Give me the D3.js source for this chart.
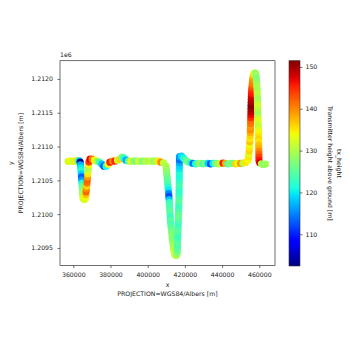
<!DOCTYPE html>
<html>
<head>
<meta charset="utf-8">
<script src="https://cdn.jsdelivr.net/npm/d3@7"></script>
<style>
  body { margin: 0; background: #fff; }
  svg text { font-family: "DejaVu Sans", sans-serif; fill: #222; }
</style>
</head>
<body>
<div id="plot"></div>
<script>
// flight line, x / y in metres (WGS84/Albers), tx_height in metres
var easting = [
  357200, 358600, 360000, 361300, 362400, 363200, 363700,
  363800, 363950, 364100, 364250, 364400, 364500, 364650, 364750, 364900, 365000, 365100, 365250, 365450,
  365800, 366200,
  366600, 366750, 366900, 367050, 367200, 367350, 367500, 367650, 367800, 367950, 368100, 368250, 368400,
  369000, 370100, 371400, 372700, 374100, 375400, 376500, 377600, 378700, 379700, 381100, 382400, 383800,
  385100, 386200, 387300, 388300, 389700, 391000, 392400, 393700, 395100, 396400, 397700, 399100, 400400,
  401800, 403100, 404500, 405800, 407100, 408500,
  409840, 410000, 410160, 410320, 410480, 410640, 410800, 410960, 411120, 411290, 411390, 411500, 411610,
  411720, 411820, 411930, 412040, 412150, 412250, 412410, 412580, 412740, 412900, 413060, 413270, 413490,
  413700, 413920, 414190, 414510, 414940, 415430, 415800, 415910, 415960, 416020, 416070, 416120, 416180,
  416230, 416290, 416340, 416390, 416450, 416500, 416550, 416610, 416660, 416720, 416770, 416820, 416830,
  416880, 416890, 416930, 416940, 416980, 416990, 417000, 417010, 417040, 417050, 417060, 417070, 417100,
  418160, 419240, 420310, 421500,
  423010, 424350, 425700, 427040, 428380, 429730, 431070, 432420, 433760, 435100, 436450, 437790, 439140,
  440480, 441820, 443170, 444510, 445860, 447200, 448540, 449890, 451230, 452580,
  454080, 454240, 454400, 454560, 454670, 454780, 454890, 454990, 455100, 455160, 455210, 455260, 455320,
  455370, 455420, 455480, 455530, 455530, 455590, 455640, 455690, 455750, 455800, 455910, 456020, 456180,
  456340, 456550, 456820, 457140, 457580, 457950, 458220, 458380, 458490, 458600, 458700, 458810, 458870,
  458920, 458970, 459030, 459080, 459130, 459190, 459240, 459300, 459350, 459400, 459460, 459510, 459560,
  459620, 459620, 459670, 459670, 459730, 459730, 459780, 459780, 459830, 460260, 461180, 462250, 463330
];

var northing = [
  1210780, 1210785, 1210780, 1210790, 1210790, 1210790, 1210770,
  1210730, 1210685, 1210640, 1210595, 1210550, 1210505, 1210460, 1210415, 1210370, 1210325, 1210280, 1210240, 1210235,
  1210215, 1210220,
  1210250, 1210290, 1210330, 1210370, 1210415, 1210460, 1210505, 1210550, 1210595, 1210640, 1210685, 1210730, 1210770,
  1210813, 1210813, 1210798, 1210783, 1210768, 1210739, 1210709, 1210709, 1210739, 1210768, 1210783, 1210783, 1210798,
  1210813, 1210842, 1210828, 1210798, 1210783, 1210783, 1210783, 1210783, 1210783, 1210783, 1210783, 1210783, 1210783,
  1210783, 1210783, 1210783, 1210783, 1210768, 1210760,
  1210710, 1210665, 1210620, 1210575, 1210530, 1210485, 1210440, 1210395, 1210350, 1210305, 1210260, 1210215, 1210170,
  1210125, 1210080, 1210035, 1209990, 1209945, 1209900, 1209855, 1209810, 1209765, 1209720, 1209675, 1209630, 1209585,
  1209540, 1209495, 1209450, 1209415, 1209390, 1209390, 1209420, 1209455, 1209500, 1209545, 1209590, 1209635, 1209680,
  1209725, 1209770, 1209815, 1209860, 1209905, 1209950, 1209995, 1210040, 1210085, 1210130, 1210175, 1210220, 1210265,
  1210310, 1210355, 1210400, 1210445, 1210490, 1210535, 1210580, 1210625, 1210670, 1210715, 1210760, 1210805, 1210850,
  1210860, 1210830, 1210800, 1210775,
  1210760, 1210750, 1210745, 1210750, 1210750, 1210745, 1210750, 1210750, 1210745, 1210750, 1210750, 1210745, 1210750,
  1210755, 1210750, 1210745, 1210750, 1210750, 1210745, 1210750, 1210750, 1210755, 1210765,
  1210800, 1210845, 1210890, 1210935, 1210980, 1211025, 1211070, 1211115, 1211160, 1211205, 1211250, 1211295, 1211340,
  1211385, 1211430, 1211475, 1211520, 1211565, 1211610, 1211655, 1211700, 1211745, 1211790, 1211835, 1211880, 1211925,
  1211970, 1212010, 1212050, 1212080, 1212090, 1212080, 1212050, 1212010, 1211965, 1211920, 1211875, 1211830, 1211785,
  1211740, 1211695, 1211650, 1211605, 1211560, 1211515, 1211470, 1211425, 1211380, 1211335, 1211290, 1211245, 1211200,
  1211155, 1211110, 1211065, 1211020, 1210975, 1210930, 1210885, 1210840, 1210795, 1210760, 1210745, 1210735, 1210740
];

var txHeight = [
  132, 134, 131, 135, 128, 119, 102.4,
  117, 120, 122, 119, 113, 116, 121, 125, 127, 129, 130, 132, 133,
  131, 133,
  134, 137, 142, 140, 136, 141, 142, 139, 135, 132, 130, 134, 144,
  147, 141, 134, 130, 124, 118, 112, 121, 134, 146, 140, 145, 131,
  136, 127, 122, 117, 125, 134, 128, 126, 133, 129, 127, 131, 129,
  132, 128, 130, 135, 140, 131,
  130, 129, 128, 127, 126, 125, 124, 122, 120, 115, 112, 118, 123,
  124, 124, 125, 124, 123, 125, 124, 125, 126, 127, 128, 127, 128,
  129, 130, 131, 131, 132, 130, 128, 126, 125, 124, 125, 124, 123,
  124, 125, 124, 123, 124, 125, 126, 125, 124, 123, 124, 125, 124,
  123, 122, 123, 124, 123, 122, 121, 122, 120, 119, 117, 114, 116,
  119, 121, 124, 127,
  122, 114, 121, 126, 129, 124, 127, 119, 112, 120, 126, 129, 131,
  146, 138, 124, 128, 126, 136, 133, 139, 130, 135,
  134, 135, 133, 136, 135, 134, 137, 135, 136, 138, 140, 139, 141,
  142, 145, 147, 149, 150, 151.5, 150, 149, 148, 146, 145, 143, 141,
  140, 139, 137, 134, 132, 128, 129, 127, 128, 129, 130, 129, 131,
  130, 129, 130, 132, 131, 130, 129, 131, 133, 132, 131, 133, 134,
  135, 136, 135, 137, 138, 140, 142, 144, 146, 148, 130, 128, 129
];

var xTicks = [360000, 380000, 400000, 420000, 440000, 460000];
var yTicks = [1209500, 1210000, 1210500, 1211000, 1211500, 1212000];
var cbarTicks = [110, 120, 130, 140, 150];

var svgWidth = 350, svgHeight = 350;
var plot = {left: 60, top: 60.7, right: 275, bottom: 265.5};
var cbar = {left: 289, right: 300, top: 60.7, bottom: 266};

var svg = d3.select("#plot")
    .append("svg")
    .attr("width", svgWidth)
    .attr("height", svgHeight);

// matplotlib "jet" colormap, one linear scale per channel
var jetR = d3.scaleLinear().domain([0, 0.35, 0.66, 0.89, 1]).range([0, 0, 1, 1, 0.5]).clamp(true);
var jetG = d3.scaleLinear().domain([0, 0.125, 0.375, 0.64, 0.91, 1]).range([0, 0, 1, 1, 0, 0]).clamp(true);
var jetB = d3.scaleLinear().domain([0, 0.11, 0.34, 0.65, 1]).range([0.5, 1, 1, 0, 0]).clamp(true);
function jet(t) {
    return d3.rgb(jetR(t) * 255, jetG(t) * 255, jetB(t) * 255).toString();
}

var hExtent = d3.extent(txHeight);
var norm = d3.scaleLinear().domain(hExtent).range([0, 1]);

var xScale = d3.scaleLinear()
    .domain([352850, 468440])
    .range([plot.left, plot.right]);

var yScale = d3.scaleLinear()
    .domain([1209240, 1212270])
    .range([plot.bottom, plot.top]);

var points = easting.map(function(d, i) {
    return {x: d, y: northing[i], h: txHeight[i]};
});

// scatter markers
svg.append("g")
    .selectAll("circle")
    .data(points)
    .enter()
    .append("circle")
    .attr("cx", d => xScale(d.x))
    .attr("cy", d => yScale(d.y))
    .attr("r", 3.6)
    .attr("fill", d => jet(norm(d.h)));

// axes
var xAxis = svg.append("g")
    .attr("transform", `translate(0, ${plot.bottom})`)
    .call(d3.axisBottom(xScale).tickValues(xTicks).tickSize(2.5).tickPadding(4.5).tickFormat(d3.format("d")));

var yAxis = svg.append("g")
    .attr("transform", `translate(${plot.left}, 0)`)
    .call(d3.axisLeft(yScale).tickValues(yTicks).tickSize(2.5).tickPadding(4.5).tickFormat(d => (d / 1e6).toFixed(4)));

[xAxis, yAxis].forEach(function(ax) {
    ax.select(".domain").remove();
    ax.selectAll("line").attr("stroke", "#333").attr("stroke-width", 0.7);
    ax.selectAll("text").style("font-size", "6.2px").attr("fill", "#222");
});

svg.append("rect")
    .attr("x", plot.left)
    .attr("y", plot.top)
    .attr("width", plot.right - plot.left)
    .attr("height", plot.bottom - plot.top)
    .attr("fill", "none")
    .attr("stroke", "#333")
    .attr("stroke-width", 0.7);

// offset text
svg.append("text")
    .attr("x", plot.left)
    .attr("y", 57)
    .style("font-size", "6.2px")
    .text("1e6");

// axis labels
var midX = (plot.left + plot.right) / 2;
var midY = (plot.top + plot.bottom) / 2;

svg.append("text")
    .attr("x", midX).attr("y", 287.3)
    .attr("text-anchor", "middle")
    .style("font-size", "6.2px")
    .text("x");
svg.append("text")
    .attr("x", midX).attr("y", 295.8)
    .attr("text-anchor", "middle")
    .style("font-size", "6.2px")
    .text("PROJECTION=WGS84/Albers [m]");

svg.append("text")
    .attr("transform", `translate(12.8, ${midY}) rotate(-90)`)
    .attr("text-anchor", "middle")
    .style("font-size", "6.2px")
    .text("y");
svg.append("text")
    .attr("transform", `translate(22.6, ${midY}) rotate(-90)`)
    .attr("text-anchor", "middle")
    .style("font-size", "6.2px")
    .text("PROJECTION=WGS84/Albers [m]");

// colorbar
var grad = svg.append("defs").append("linearGradient")
    .attr("id", "jetGrad")
    .attr("x1", 0).attr("y1", 1)
    .attr("x2", 0).attr("y2", 0);
d3.range(0, 1.0001, 0.02).forEach(function(t) {
    grad.append("stop").attr("offset", t).attr("stop-color", jet(t));
});

svg.append("rect")
    .attr("x", cbar.left)
    .attr("y", cbar.top)
    .attr("width", cbar.right - cbar.left)
    .attr("height", cbar.bottom - cbar.top)
    .attr("fill", "url(#jetGrad)")
    .attr("stroke", "#333")
    .attr("stroke-width", 0.6);

var cScale = d3.scaleLinear()
    .domain(hExtent)
    .range([cbar.bottom, cbar.top]);

var cAxis = svg.append("g")
    .attr("transform", `translate(${cbar.right}, 0)`)
    .call(d3.axisRight(cScale).tickValues(cbarTicks).tickSize(2.5).tickPadding(3));
cAxis.select(".domain").remove();
cAxis.selectAll("line").attr("stroke", "#333").attr("stroke-width", 0.7);
cAxis.selectAll("text").style("font-size", "6.2px").attr("fill", "#222");

var cMid = (cbar.top + cbar.bottom) / 2;
svg.append("text")
    .attr("transform", `translate(337.3, ${cMid}) rotate(90)`)
    .attr("text-anchor", "middle")
    .style("font-size", "6.2px")
    .text("tx_height");
svg.append("text")
    .attr("transform", `translate(327.6, ${cMid}) rotate(90)`)
    .attr("text-anchor", "middle")
    .style("font-size", "6.2px")
    .text("Transmitter height above ground [m]");
</script>
</body>
</html>
